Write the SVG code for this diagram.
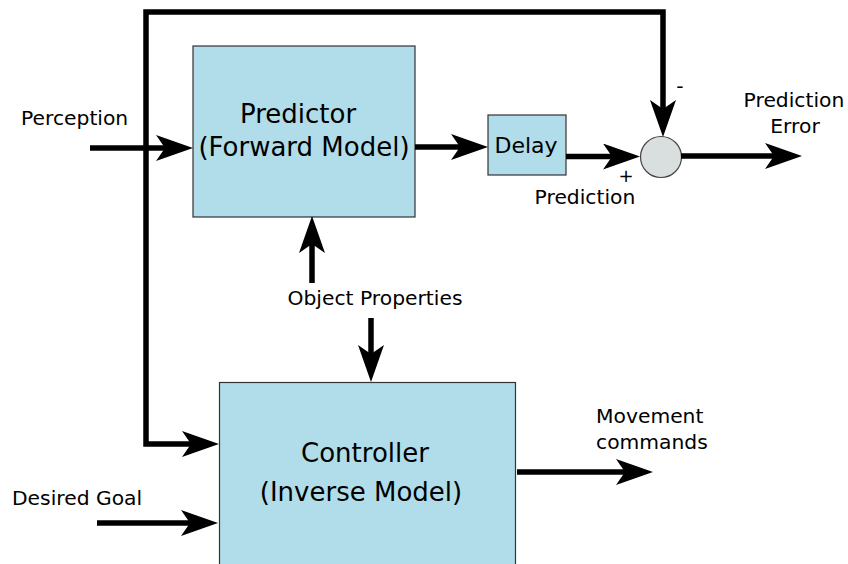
<svg xmlns="http://www.w3.org/2000/svg" width="848" height="564" viewBox="0 0 848 564">
  <style>
    .box { fill: #b0dde9; stroke: #333; stroke-width: 1.2; }
    .sum { fill: #d9dfde; stroke: #444; stroke-width: 1.2; }
    .wire { fill: none; stroke: #000; stroke-width: 5.5; stroke-linejoin: miter; stroke-linecap: butt; }
    .big { font-family: "DejaVu Sans", "Liberation Sans", sans-serif; font-size: 26px; fill: #000; text-anchor: middle; }
    .lbl { font-family: "DejaVu Sans", "Liberation Sans", sans-serif; font-size: 20.3px; fill: #000; }
  </style>
  <defs>
    <marker id="head" viewBox="0 -13 37 26" refX="9" refY="0" markerWidth="37" markerHeight="26" markerUnits="userSpaceOnUse" orient="auto-start-reverse">
      <path d="M9,0 L0,-13 L37,0 L0,13 Z" fill="#000"/>
    </marker>
  </defs>

  <!-- blocks -->
  <g id="predictor">
    <rect class="box" x="193" y="46" width="222" height="171"/>
    <text class="big" x="298" y="123">Predictor</text>
    <text class="big" x="304" y="156">(Forward Model)</text>
  </g>
  <g id="delay">
    <rect class="box" x="488" y="115" width="78" height="60"/>
    <text class="lbl" x="526" y="153" style="font-size:22px" text-anchor="middle">Delay</text>
  </g>
  <g id="comparator">
    <circle class="sum" cx="661" cy="157" r="20.5"/>
  </g>
  <g id="controller">
    <rect class="box" x="219.5" y="382.5" width="296" height="200"/>
    <text class="big" x="365" y="462">Controller</text>
    <text class="big" x="361" y="501">(Inverse Model)</text>
  </g>

  <!-- signal lines -->
  <g id="connectors">
    <path class="wire" d="M663,109 V12 H146 V444 H191" marker-start="url(#head)" marker-end="url(#head)"/>
    <path class="wire" d="M90,148 H165" marker-end="url(#head)"/>
    <path class="wire" d="M415,147 H460" marker-end="url(#head)"/>
    <path class="wire" d="M566,156.5 H612" marker-end="url(#head)"/>
    <path class="wire" d="M681,156 H774" marker-end="url(#head)"/>
    <path class="wire" d="M312,283 V244" marker-end="url(#head)"/>
    <path class="wire" d="M371,318 V354" marker-end="url(#head)"/>
    <path class="wire" d="M97,523 H190" marker-end="url(#head)"/>
    <path class="wire" d="M517,472 H625" marker-end="url(#head)"/>
  </g>

  <!-- signal labels -->
  <g id="labels">
    <text class="lbl" x="21" y="125">Perception</text>
    <text class="lbl" x="794" y="107" text-anchor="middle">Prediction</text>
    <text class="lbl" x="795" y="133" text-anchor="middle">Error</text>
    <text class="lbl" x="680" y="93" text-anchor="middle">-</text>
    <text class="lbl" x="626" y="182" text-anchor="middle" style="font-size:18px">+</text>
    <text class="lbl" x="585" y="204" text-anchor="middle">Prediction</text>
    <text class="lbl" x="375" y="305" text-anchor="middle">Object Properties</text>
    <text class="lbl" x="596" y="423">Movement</text>
    <text class="lbl" x="596" y="449">commands</text>
    <text class="lbl" x="12" y="505">Desired Goal</text>
  </g>
</svg>
